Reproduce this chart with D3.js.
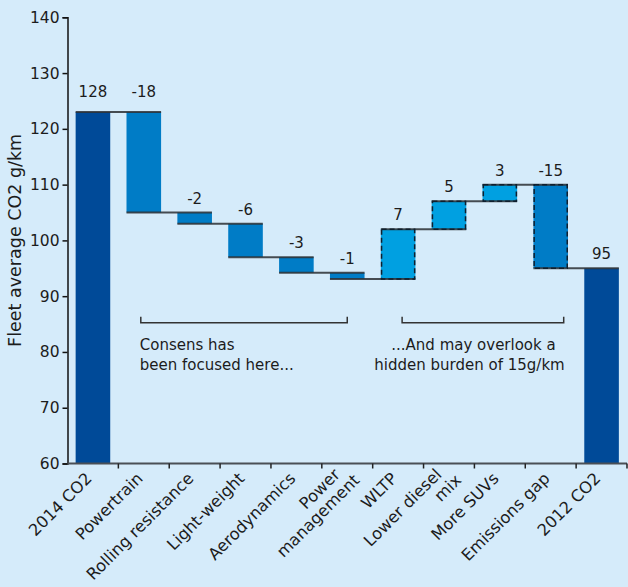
<!DOCTYPE html>
<html>
<head>
<meta charset="utf-8">
<script src="https://cdn.jsdelivr.net/npm/d3@7"></script>
<style>
  html, body { margin: 0; padding: 0; background: #d5ebfa; }
  svg { display: block; }
  text { font-family: "DejaVu Sans", "Noto Sans", sans-serif; fill: #1c1c1c; }
</style>
</head>
<body>
<svg id="chart" width="628" height="587"></svg>
<script>
// ---- data ----
const categories = ["2014 CO2", "Powertrain", "Rolling resistance", "Light-weight", "Aerodynamics",
  "Power\nmanagement", "WLTP", "Lower diesel\nmix", "More SUVs", "Emissions gap", "2012 CO2"];
const valueLabels = ["128", "-18", "-2", "-6", "-3", "-1", "7", "5", "3", "-15", "95"];
// drawn extents of each bar (g/km)
const barStart = [60, 123, 105, 103, 97, 94.2, 93.1, 102, 107, 110, 60];
const barEnd   = [123, 105, 103, 97, 94.2, 93.1, 102, 107, 110, 95, 95];
const barKind  = ["total", "down", "down", "down", "down", "down", "up", "up", "up", "down", "total"];
const barDashed = [false, false, false, false, false, false, true, true, true, true, false];
const yTicks = [60, 70, 80, 90, 100, 110, 120, 130, 140];
const yTitle = "Fleet average CO2 g/km";
const noteLeft = ["Consens has", "been focused here..."];
const noteRight = ["...And may overlook a", "hidden burden of 15g/km"];

// ---- layout ----
const svg = d3.select("#chart");
const W = 628, H = 587;
svg.append("rect").attr("width", W).attr("height", H).attr("fill", "#d5ebfa");

const x0 = 67.5, x1 = 627;
const y = d3.scaleLinear().domain([60, 140]).range([463.5, 17.3]);
const x = d3.scaleBand().domain(categories).range([x0, x1]).paddingInner(0.32).paddingOuter(0.16);
const step = x.step();
const xc = i => x(categories[i]) + x.bandwidth() / 2;

const colors = { total: "#004a98", down: "#007cc6", up: "#00a0e1" };
const FS = 15;

// bars
const idx = d3.range(categories.length);
svg.append("g").selectAll("rect").data(idx).join("rect")
  .attr("x", i => x(categories[i]))
  .attr("width", x.bandwidth())
  .attr("y", i => y(Math.max(barStart[i], barEnd[i])))
  .attr("height", i => Math.abs(y(barStart[i]) - y(barEnd[i])))
  .attr("fill", i => colors[barKind[i]]);

// connectors
svg.append("g").selectAll("line").data(idx.slice(0, -1)).join("line")
  .attr("x1", i => x(categories[i]))
  .attr("x2", i => x(categories[i + 1]) + x.bandwidth())
  .attr("y1", i => y(barEnd[i]))
  .attr("y2", i => y(barEnd[i]))
  .attr("stroke", "#2b2f33")
  .attr("stroke-opacity", 0.85)
  .attr("stroke-width", 2);

// dashed outlines
svg.append("g").selectAll("rect").data(idx.filter(i => barDashed[i])).join("rect")
  .attr("x", i => x(categories[i]) + 0.75)
  .attr("width", x.bandwidth() - 1.5)
  .attr("y", i => y(Math.max(barStart[i], barEnd[i])))
  .attr("height", i => Math.abs(y(barStart[i]) - y(barEnd[i])))
  .attr("fill", "none")
  .attr("stroke", "#0f1f2e")
  .attr("stroke-width", 1.5)
  .attr("stroke-dasharray", "5,3");

// value labels
svg.append("g").selectAll("text").data(idx).join("text")
  .attr("x", i => xc(i))
  .attr("y", i => y(Math.max(barStart[i], barEnd[i])) - (i < 2 ? 15 : 9))
  .attr("text-anchor", "middle")
  .attr("font-size", FS)
  .text(i => valueLabels[i]);

// y axis
const yAxis = svg.append("g").attr("transform", `translate(${x0},0)`)
  .call(d3.axisLeft(y).tickValues(yTicks).tickSize(5).tickPadding(3).tickFormat(d3.format("d")));
yAxis.select(".domain").attr("stroke", "#111").attr("stroke-width", 1.5);
yAxis.selectAll(".tick line").attr("stroke", "#111").attr("stroke-width", 1.5);
yAxis.selectAll(".tick text").attr("font-size", FS + 0.5).attr("fill", "#1c1c1c")
  .attr("font-family", "'DejaVu Sans', sans-serif");

// x axis
const xAxisY = y(60);
svg.append("line").attr("x1", x0).attr("x2", x1).attr("y1", xAxisY).attr("y2", xAxisY)
  .attr("stroke", "#4a4f55").attr("stroke-width", 2);
svg.append("g").selectAll("line").data(d3.range(1, categories.length + 1)).join("line")
  .attr("x1", k => x0 + k * step).attr("x2", k => x0 + k * step)
  .attr("y1", xAxisY).attr("y2", xAxisY + 5)
  .attr("stroke", "#222").attr("stroke-width", 1.5);

// x labels
const xl = svg.append("g").selectAll("text").data(idx).join("text")
  .attr("transform", i => `translate(${xc(i)},${xAxisY + 16}) rotate(-45)`)
  .attr("text-anchor", "end")
  .attr("font-size", FS + 1.3);
xl.each(function(i) {
  const lines = categories[i].split("\n");
  const t = d3.select(this);
  lines.forEach((s, k) => {
    t.append("tspan").attr("x", 0)
      .attr("dy", k === 0 ? (lines.length > 1 ? "-0.45em" : "0") : "1.1em")
      .attr("dx", lines.length > 1 ? (k === 0 ? "-0.1em" : "0.5em") : 0)
      .text(s);
  });
});

// y title
svg.append("text")
  .attr("transform", `translate(21,${y(100)}) rotate(-90)`)
  .attr("text-anchor", "middle")
  .attr("font-size", 17.5)
  .text(yTitle);

// annotations
const brY = 322.7;
function bracket(xa, xb) {
  svg.append("path")
    .attr("d", `M${xa},${brY - 6}V${brY}H${xb}V${brY - 6}`)
    .attr("fill", "none").attr("stroke", "#333").attr("stroke-width", 1.5);
}
bracket(xc(1) - 3, xc(5));
bracket(xc(6) + 4, xc(9) + 13);

svg.append("g").selectAll("text").data(noteLeft).join("text")
  .attr("x", xc(1) - 4).attr("y", (d, k) => 350 + k * 20)
  .attr("font-size", FS).text(d => d);
svg.append("g").selectAll("text").data(noteRight).join("text")
  .attr("x", (d, k) => xc(9) + (k === 0 ? 5 : 14)).attr("y", (d, k) => 350 + k * 20)
  .attr("text-anchor", "end")
  .attr("font-size", FS).text(d => d);
</script>
</body>
</html>
